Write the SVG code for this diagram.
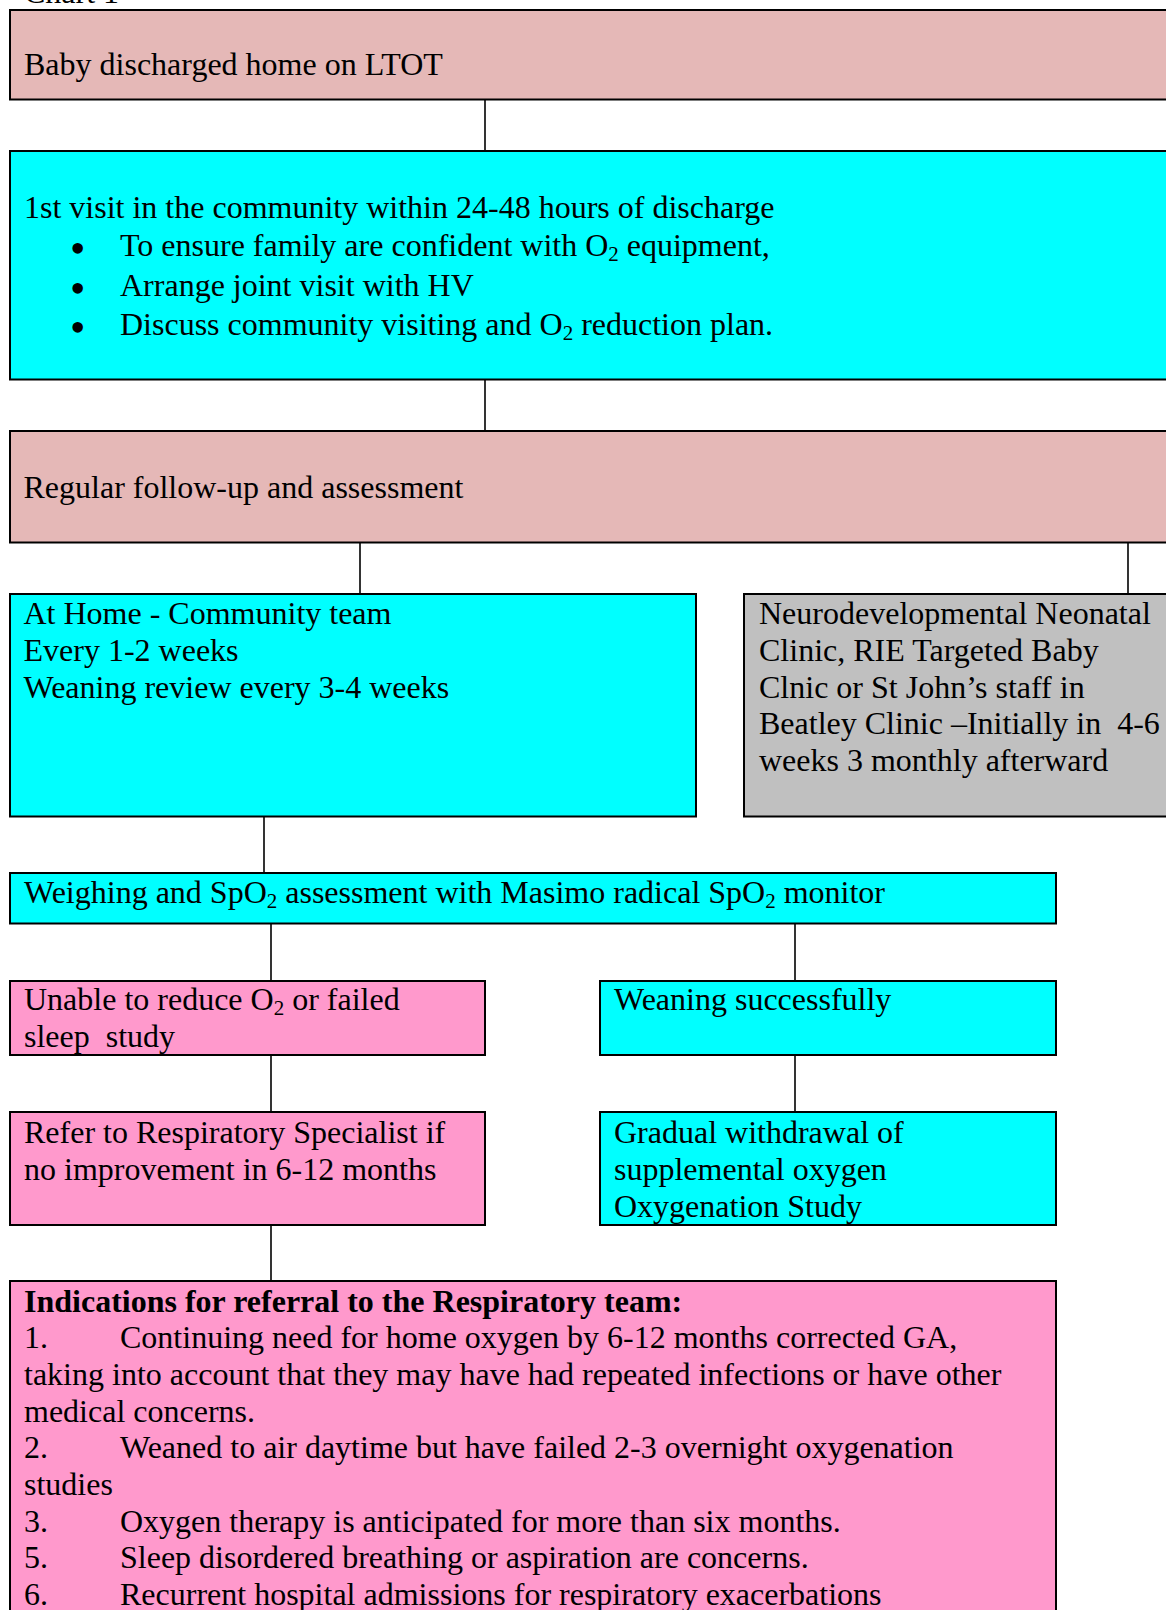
<svg xmlns="http://www.w3.org/2000/svg" width="1166" height="1610" viewBox="0 0 1166 1610">
<style>
text{font-family:"Liberation Serif","Times New Roman",serif;font-size:32px;fill:#000}
.box{stroke:#000;stroke-width:2}
.rose{fill:#E5B8B7}
.cyan{fill:#00FFFF}
.grey{fill:#C0C0C0}
.pink{fill:#FF99CC}
.sub{font-size:21px}
.b{font-weight:bold}
.bul{font-size:44px}
#connectors line{stroke:#000;stroke-width:1.6}
</style>
<rect width="1166" height="1610" fill="#fff"/>
<text x="24" y="3">Chart 1</text>
<g id="connectors">
<line x1="485" y1="100" x2="485" y2="151"/>
<line x1="485" y1="380" x2="485" y2="431"/>
<line x1="360" y1="543" x2="360" y2="594"/>
<line x1="1128" y1="543" x2="1128" y2="594"/>
<line x1="264" y1="817" x2="264" y2="873"/>
<line x1="271" y1="923" x2="271" y2="981"/>
<line x1="795" y1="923" x2="795" y2="981"/>
<line x1="271" y1="1055" x2="271" y2="1112"/>
<line x1="795" y1="1055" x2="795" y2="1112"/>
<line x1="271" y1="1225" x2="271" y2="1281"/>
</g>
<g id="n1">
<rect class="box rose" x="10" y="10" width="1180" height="89.5"/>
<text x="24" y="75">Baby discharged home on LTOT</text>
</g>
<g id="n2">
<rect class="box cyan" x="10" y="151" width="1180" height="228.5"/>
<text x="24" y="217.5">1st visit in the community within 24-48 hours of discharge</text>
<text class="bul" x="70" y="263">•</text>
<text x="120" y="256">To ensure family are confident with O<tspan class="sub" dy="5">2</tspan><tspan dy="-5"> equipment,</tspan></text>
<text class="bul" x="70" y="303">•</text>
<text x="120" y="296">Arrange joint visit with HV</text>
<text class="bul" x="70" y="342">•</text>
<text x="120" y="335">Discuss community visiting and O<tspan class="sub" dy="5">2</tspan><tspan dy="-5"> reduction plan.</tspan></text>
</g>
<g id="n3">
<rect class="box rose" x="10" y="431" width="1180" height="111.5"/>
<text x="23.5" y="497.5">Regular follow-up and assessment</text>
</g>
<g id="n4">
<rect class="box cyan" x="10" y="594" width="686" height="222.5"/>
<text x="23.5" y="624.3">At Home - Community team</text>
<text x="23.5" y="661">Every 1-2 weeks</text>
<text x="23.5" y="697.5">Weaning review every 3-4 weeks</text>
</g>
<g id="n5">
<rect class="box grey" x="744" y="594" width="446" height="222.5"/>
<text x="759" y="624.3">Neurodevelopmental Neonatal</text>
<text x="759" y="661">Clinic, RIE Targeted Baby</text>
<text x="759" y="697.5">Clnic or St John’s staff in</text>
<text x="759" y="734" xml:space="preserve">Beatley Clinic –Initially in  4-6</text>
<text x="759" y="770.5">weeks 3 monthly afterward</text>
</g>
<g id="n6">
<rect class="box cyan" x="10" y="873" width="1046" height="50.5"/>
<text x="24" y="903.3">Weighing and SpO<tspan class="sub" dy="5">2</tspan><tspan dy="-5"> assessment with Masimo radical SpO</tspan><tspan class="sub" dy="5">2</tspan><tspan dy="-5"> monitor</tspan></text>
</g>
<g id="n7">
<rect class="box pink" x="10" y="981" width="475" height="74"/>
<text x="24" y="1010">Unable to reduce O<tspan class="sub" dy="5">2</tspan><tspan dy="-5"> or failed</tspan></text>
<text x="24" y="1046.5" xml:space="preserve">sleep  study</text>
</g>
<g id="n8">
<rect class="box cyan" x="600" y="981" width="456" height="74"/>
<text x="614" y="1010">Weaning successfully</text>
</g>
<g id="n9">
<rect class="box pink" x="10" y="1112" width="475" height="113"/>
<text x="24" y="1143">Refer to Respiratory Specialist if</text>
<text x="24" y="1180">no improvement in 6-12 months</text>
</g>
<g id="n10">
<rect class="box cyan" x="600" y="1112" width="456" height="113"/>
<text x="614" y="1143">Gradual withdrawal of</text>
<text x="614" y="1180">supplemental oxygen</text>
<text x="614" y="1216.5">Oxygenation Study</text>
</g>
<g id="n11">
<rect class="box pink" x="10" y="1281" width="1046" height="360"/>
<text class="b" x="24" y="1311.7">Indications for referral to the Respiratory team:</text>
<text x="24" y="1348.3">1.</text>
<text x="120" y="1348.3">Continuing need for home oxygen by 6-12 months corrected GA,</text>
<text x="24" y="1385">taking into account that they may have had repeated infections or have other</text>
<text x="24" y="1421.7">medical concerns.</text>
<text x="24" y="1458.3">2.</text>
<text x="120" y="1458.3">Weaned to air daytime but have failed 2-3 overnight oxygenation</text>
<text x="24" y="1495">studies</text>
<text x="24" y="1531.7">3.</text>
<text x="120" y="1531.7">Oxygen therapy is anticipated for more than six months.</text>
<text x="24" y="1568.3">5.</text>
<text x="120" y="1568.3">Sleep disordered breathing or aspiration are concerns.</text>
<text x="24" y="1605">6.</text>
<text x="120" y="1605">Recurrent hospital admissions for respiratory exacerbations</text>
</g>
</svg>
